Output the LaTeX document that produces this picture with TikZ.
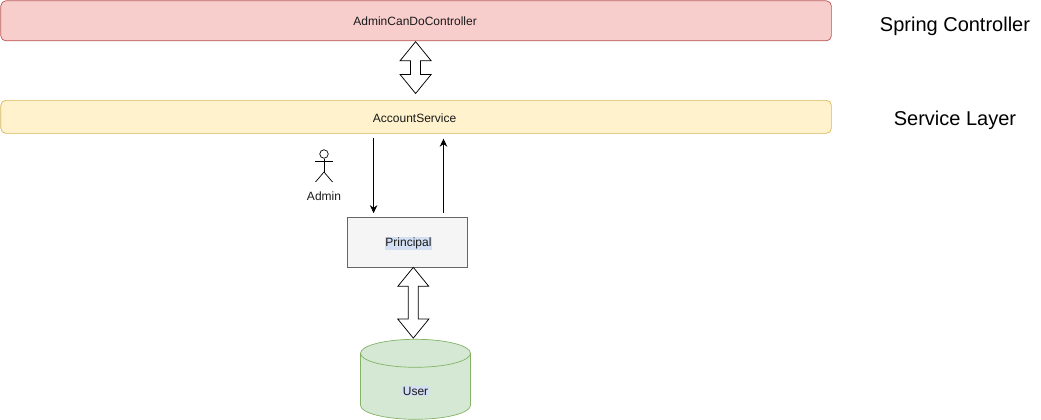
\documentclass[tikz,border=0pt]{standalone}
\usepackage{fontspec}
\setmainfont{Liberation Sans}
\usetikzlibrary{arrows.meta,calc}
\definecolor{redfill}{HTML}{F8CECC}\definecolor{redline}{HTML}{B85450}
\definecolor{yelfill}{HTML}{FFF2CC}\definecolor{yelline}{HTML}{D6B656}
\definecolor{grayfill}{HTML}{F5F5F5}\definecolor{grayline}{HTML}{666666}
\definecolor{grnfill}{HTML}{D5E8D4}\definecolor{grnline}{HTML}{82B366}
\definecolor{selblue}{HTML}{D3DFF3}
\newcommand{\seltext}[1]{{\setlength{\fboxsep}{0.6pt}\colorbox{selblue}{#1}}}
\newcommand{\lowered}[2]{\raisebox{-#1}[\height][\depth]{#2}}
\tikzset{
  small/.style={font=\fontsize{12}{14}\selectfont, text=black!90},
  big/.style={font=\fontsize{20}{24}\selectfont, text=black, inner sep=0pt},
  layerbox/.style={draw, rounded corners=5pt, small, minimum width=830.5pt, inner sep=0pt, line width=0.7pt},
  flow/.style={draw=black, line width=0.75pt, -{Stealth[length=8pt,width=7.5pt]}},
  limb/.style={draw=black, line width=0.7pt},
  cyl/.style={draw=grnline, line width=0.7pt},
  fatarrow/.style={draw=black, fill=white, line width=0.75pt, line join=miter, to path={
    let \p1=(\tikztostart), \p2=(\tikztotarget) in
    (\x1,\y1) -- (\x1+15.5pt,\y1-19pt) -- (\x1+5pt,\y1-19pt) -- (\x1+5pt,\y2+19pt)
    -- (\x1+15.5pt,\y2+19pt) -- (\x1,\y2) -- (\x1-15.5pt,\y2+19pt) -- (\x1-5pt,\y2+19pt)
    -- (\x1-5pt,\y1-19pt) -- (\x1-15.5pt,\y1-19pt) -- cycle}}
}
\begin{document}
\begin{tikzpicture}[x=1pt,y=-1pt]
\useasboundingbox (0,0) rectangle (1041,420);
\node[layerbox, fill=redfill, draw=redline, minimum height=40pt, anchor=north west] (ctrl) at (0.5,0.5) {\kern-2pt AdminCanDoController};
\node[layerbox, fill=yelfill, draw=yelline, minimum height=33pt, anchor=north west] (svc) at (0.5,100) {\kern-3pt\lowered{1pt}{AccountService}};
\node[draw=grayline, fill=grayfill, small, minimum width=120pt, minimum height=50pt, inner sep=0pt, line width=0.7pt] (prin) at (407.5,242) {\kern2pt\lowered{1.5pt}{\seltext{Principal}}};
% cylinder body, then its named node on top
\coordinate (ucenter) at (415.5,379.3);
\begin{scope}[shift={(ucenter)}]
  \fill[grnfill] (-55,-26) .. controls (-55,-33.7) and (-30.4,-40) .. (0,-40) .. controls (30.4,-40) and (55,-33.7) .. (55,-26) -- (55,26) .. controls (55,33.7) and (30.4,40) .. (0,40) .. controls (-30.4,40) and (-55,33.7) .. (-55,26) -- cycle;
  \draw[cyl] (-55,-26) .. controls (-55,-33.7) and (-30.4,-40) .. (0,-40) .. controls (30.4,-40) and (55,-33.7) .. (55,-26) -- (55,26) .. controls (55,33.7) and (30.4,40) .. (0,40) .. controls (-30.4,40) and (-55,33.7) .. (-55,26) -- cycle;
  \draw[cyl] (-55,-26) .. controls (-55,-18.3) and (-30.4,-12) .. (0,-12) .. controls (30.4,-12) and (55,-18.3) .. (55,-26);
\end{scope}
\node[small, minimum width=110pt, minimum height=80pt, inner sep=0pt] (user) at (ucenter) {\lowered{11.8pt}{\seltext{User}}};
\node[big] (lab1) at (955,26) {Spring Controller};
\node[big] (lab2) at (955,120) {Service Layer};
\draw[fatarrow] ([xshift=-0.5pt,yshift=-0.5pt]ctrl.south) to ([xshift=-0.5pt,yshift=6.5pt]svc.north);
\draw[fatarrow] ([xshift=5.8pt]prin.south) to ([xshift=-2.2pt,yshift=1pt]user.north);
\coordinate (downstart) at ([xshift=-42.5pt,yshift=-4pt]svc.south);
\coordinate (upstart) at ([xshift=36pt,yshift=4pt]prin.north);
\draw[flow] (downstart) -- ([yshift=3.5pt]downstart |- prin.north);
\draw[flow] (upstart) -- ([yshift=-5pt]upstart |- svc.south);
% actor
\node[draw=black, circle, minimum size=8.5pt, inner sep=0pt, line width=0.7pt] (head) at (324,154) {};
\coordinate (hip) at (324,172);
\draw[limb] (head.south) -- (hip);
\coordinate (armL) at (315,161); \coordinate (armR) at (333,161);
\draw[limb] (armL) -- (armR);
\coordinate (legL) at (315.5,182); \coordinate (legR) at (332.5,182);
\draw[limb] (legL) -- (hip) -- (legR);
\node[small, inner sep=0pt] (admin) at (324,196) {Admin};
\end{tikzpicture}
\end{document}
